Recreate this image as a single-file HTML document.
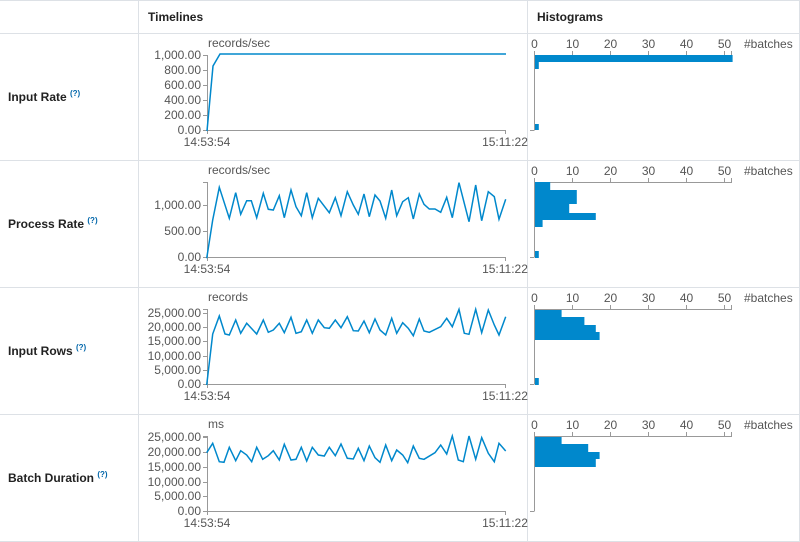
<!DOCTYPE html>
<html><head><meta charset="utf-8"><style>
body{margin:0;background:#fff;width:800px;height:542px;overflow:hidden}
svg{display:block;font-family:"Liberation Sans",sans-serif}
</style></head><body>
<svg id="s" width="800" height="542" xmlns="http://www.w3.org/2000/svg">
<rect width="800" height="542" fill="#fff"/>
<g stroke="#dde1e6" stroke-width="1">
<line x1="0" y1="0.5" x2="800" y2="0.5"/>
<line x1="0" y1="33.5" x2="800" y2="33.5"/>
<line x1="0" y1="160.5" x2="800" y2="160.5"/>
<line x1="0" y1="287.5" x2="800" y2="287.5"/>
<line x1="0" y1="414.5" x2="800" y2="414.5"/>
<line x1="0" y1="541.5" x2="800" y2="541.5"/>
<line x1="138.5" y1="0" x2="138.5" y2="542"/>
<line x1="527.5" y1="0" x2="527.5" y2="542"/>
<line x1="799.5" y1="0" x2="799.5" y2="542"/>
</g>
<g font-weight="bold" font-size="12" fill="#222">
<text x="148" y="21">Timelines</text>
<text x="537" y="21">Histograms</text>
<text x="8" y="101">Input Rate <tspan font-size="8" dy="-5" fill="#0066aa">(?)</tspan></text>
<text x="8" y="228">Process Rate <tspan font-size="8" dy="-5" fill="#0066aa">(?)</tspan></text>
<text x="8" y="355">Input Rows <tspan font-size="8" dy="-5" fill="#0066aa">(?)</tspan></text>
<text x="8" y="482">Batch Duration <tspan font-size="8" dy="-5" fill="#0066aa">(?)</tspan></text>
</g>
<g id="dyn"></g>
</svg>
<script>
var g=document.getElementById('dyn'),h='';
function T(x,y,t,a,c){h+='<text x="'+x+'" y="'+y+'" font-size="12" fill="'+(c||'#555')+'" text-anchor="'+(a||'start')+'">'+t+'</text>';}
function L(x1,y1,x2,y2,c){h+='<line x1="'+x1+'" y1="'+y1+'" x2="'+x2+'" y2="'+y2+'" stroke="'+(c||'#999')+'" stroke-width="1"/>';}
var rows=[
 {off:0,unit:'records/sec',top:55,ticks:[[0,130],[200,115],[400,100],[600,85],[800,70],[1000,55]],dec:false,
  pts:[[207,131],[213,66],[220,54],[506,54]],abs:true,
  bars:[[55,62,52],[62,69,1],[124,130,1]]},
 {off:127,unit:'records/sec',top:182,ticks:[[0,257],[500,231],[1000,205]],zo:[140,170],
  pts:[[200,265],[218,150],[238,52],[268,145],[287,68],[302,133],[320,92],[334,92],[350,143],[370,70],[385,118],[400,120],[418,77],[433,143],[453,60],[468,110],[484,137],[500,68],[517,143],[535,85],[568,128],[586,83],[603,137],[622,65],[640,105],[655,133],[672,72],[688,140],[705,75],[720,93],[737,145],[755,60],[770,137],[788,95],[805,83],[820,147],[838,72],[852,103],[868,117],[885,117],[902,127],[920,82],[937,143],[957,38],[987,155],[1007,45],[1025,152],[1045,65],[1063,80],[1077,148],[1097,88]],
  bars:[[182,190,4],[190,204,11],[204,213,9],[213,220,16],[220,227,2],[251,258,1]]},
 {off:254,unit:'records',top:309,ticks:[[0,384],[5000,370],[10000,356],[15000,341],[20000,327],[25000,313]],zo:[140,295],
  pts:[[200,270],[218,117],[238,63],[255,117],[268,120],[287,75],[302,115],[320,85],[350,117],[370,75],[385,112],[400,105],[418,85],[433,113],[453,67],[468,115],[484,110],[500,75],[517,115],[535,75],[553,98],[568,100],[586,75],[603,98],[622,65],[640,107],[655,108],[672,78],[688,113],[705,72],[720,105],[737,120],[755,70],[770,115],[788,83],[805,100],[820,122],[838,72],[852,108],[868,112],[902,95],[920,70],[937,95],[957,43],[973,115],[987,118],[1007,43],[1025,113],[1045,45],[1063,90],[1077,120],[1097,65]],
  bars:[[310,317,7],[317,325,13],[325,332,16],[332,340,17],[378,385,1]]},
 {off:381,unit:'ms',top:436,ticks:[[0,511],[5000,496],[10000,482],[15000,467],[20000,452],[25000,437]],zo:[140,420],
  pts:[[200,98],[218,70],[238,125],[252,127],[268,82],[287,122],[302,92],[320,105],[335,125],[350,82],[368,118],[385,107],[400,92],[418,120],[433,73],[453,120],[468,118],[484,82],[500,123],[517,82],[535,105],[553,108],[568,82],[586,107],[603,72],[622,115],[640,117],[655,85],[672,122],[688,78],[705,113],[720,127],[737,75],[755,122],[770,90],[788,105],[803,128],[820,78],[838,115],[852,118],[885,98],[902,75],[920,102],[937,48],[955,120],[970,125],[987,48],[1007,118],[1025,53],[1045,100],[1063,125],[1077,70],[1097,93]],
  bars:[[437,444,7],[444,452,14],[452,459,17],[459,467,16]]}
];
function fmt(v){var s=v.toLocaleString('en-US');return s+'.00';}
rows.forEach(function(r){
 var o=r.off,base=130+o;
 T(208,o+47,r.unit);
 L(207.5,r.top,207.5,base,'#999');L(207.5,base+0.5,506,base+0.5,'#999');
 L(203,r.top+0.5,207.5,r.top+0.5);L(505.5,base,505.5,base+4);L(207.5,base,207.5,base+4);
 r.ticks.forEach(function(t){L(203,t[1]+0.5,207.5,t[1]+0.5);T(201,t[1]+4,fmt(t[0]),'end');});
 T(207,base+16,'14:53:54','middle');T(505,base+16,'15:11:22','middle');
 var p=r.pts.map(function(q){return r.abs?q:[r.zo[0]+q[0]/3,r.zo[1]+q[1]/3];});
 h+='<polyline fill="none" stroke="#0088cc" stroke-width="1.5" points="'+p.map(function(q){return q[0].toFixed(1)+','+q[1].toFixed(1)}).join(' ')+'"/>';
 // histogram
 var ax=55+o;
 for(var k=0;k<=5;k++){var x=534+38*k;L(x+0.5,ax-4,x+0.5,ax);T(x+0.5,ax-7,String(k*10),'middle');}
 L(534,ax+0.5,732,ax+0.5);L(731.5,ax-4,731.5,ax);
 T(744,ax-7,'#batches');
 L(534.5,ax,534.5,base);L(530,base+0.5,534.5,base+0.5);
 r.bars.forEach(function(b){h+='<rect x="535" y="'+b[0]+'" width="'+(b[2]*3.8)+'" height="'+(b[1]-b[0])+'" fill="#0088cc"/>';});
});
g.innerHTML=h;
</script>
</body></html>
